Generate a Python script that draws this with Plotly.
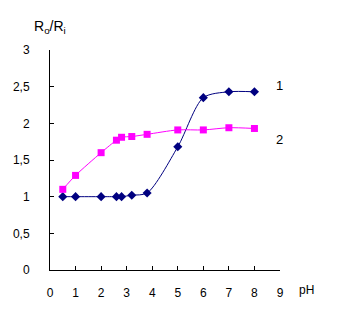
import plotly.graph_objects as go

ph1 = [0.5, 1, 2, 2.6, 2.8, 3.2, 3.8, 5, 6, 7, 8]
r1 = [1.0, 1.0, 1.0, 1.0, 1.0, 1.02, 1.05, 1.68, 2.35, 2.43, 2.43]
ph2 = [0.5, 1, 2, 2.6, 2.8, 3.2, 3.8, 5, 6, 7, 8]
r2 = [1.1, 1.29, 1.6, 1.77, 1.81, 1.82, 1.85, 1.91, 1.91, 1.94, 1.93]
xticks = [0, 1, 2, 3, 4, 5, 6, 7, 8, 9]
yticks = [0, 0.5, 1, 1.5, 2, 2.5, 3]

font = dict(family="Liberation Sans, Arial, sans-serif", size=12, color="black")

fig = go.Figure()
fig.add_trace(go.Scatter(x=ph1, y=r1, mode="lines+markers",
                         line=dict(color="#000080", width=1, shape="spline", smoothing=0.8),
                         marker=dict(symbol="diamond", size=7, color="#000080")))
fig.add_trace(go.Scatter(x=ph2, y=r2, mode="lines+markers",
                         line=dict(color="#FF00FF", width=1, shape="spline", smoothing=0.8),
                         marker=dict(symbol="square", size=7, color="#FF00FF")))

fig.update_layout(
    width=340, height=336, showlegend=False,
    margin=dict(l=49.5, r=60, t=50, b=66),
    paper_bgcolor="white", plot_bgcolor="white",
    font=font, separators=",.",
    xaxis=dict(range=[0, 9], tickvals=xticks, showgrid=False, zeroline=False,
               showline=True, linecolor="black", linewidth=1,
               ticks="inside", ticklen=4, tickcolor="black",
               ticklabelstandoff=12),
    yaxis=dict(range=[0, 3], tickvals=yticks, showgrid=False, zeroline=False,
               showline=True, linecolor="black", linewidth=1,
               ticks="inside", ticklen=4, tickcolor="black",
               ticklabelstandoff=17),
    annotations=[
        dict(text="R<sub>o</sub>/R<sub>i</sub>", x=31, y=27, showarrow=False,
             xanchor="left", yanchor="middle", font=dict(size=14)),
        dict(text="pH", x=297, y=290, xanchor="left", yanchor="middle", showarrow=False),
        dict(text="1", x=274, y=85, xanchor="left", yanchor="middle", showarrow=False, font=dict(size=13)),
        dict(text="2", x=274, y=139, xanchor="left", yanchor="middle", showarrow=False, font=dict(size=13)),
    ],
)
# convert pixel annotation positions into paper coords
pl, pr, pt, pb = 49.5, 280, 50, 270
for a in fig.layout.annotations:
    a.xref = "paper"; a.yref = "paper"
    a.x = (a.x - pl) / (pr - pl)
    a.y = (pb - a.y) / (pb - pt)

fig.write_html("out.html")
